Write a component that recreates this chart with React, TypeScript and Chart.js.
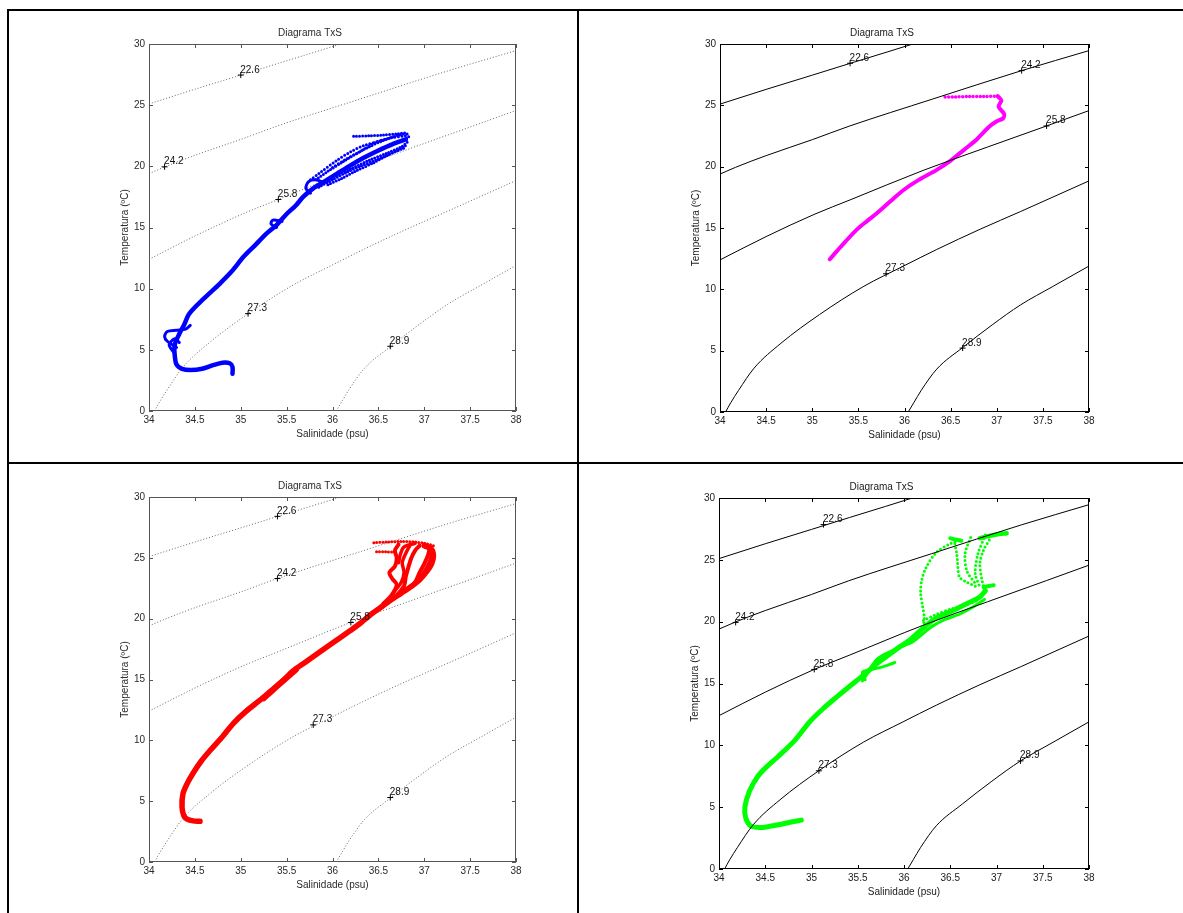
import React, { useEffect, useRef } from "react";
import { Chart, registerables } from "chart.js";

Chart.register(...registerables);

type Pt = [number, number];

const FONT = 'Arial, "Liberation Sans", Helvetica, sans-serif';

const SAL_TICKS = [34, 34.5, 35, 35.5, 36, 36.5, 37, 37.5, 38];
const TEMP_TICKS = [0, 5, 10, 15, 20, 25, 30];

const TITLE = "Diagrama TxS";
const X_LABEL = "Salinidade (psu)";
const Y_LABEL = "Temperatura (ºC)";

// isopycnal (sigma-t) curves: [salinity, temperature]
const ISO_LABELS = ["22.6", "24.2", "25.8", "27.3", "28.9"];
const ISO_22_6: Pt[] = [[34, 25.1], [34.5, 26.3], [35, 27.46], [35.41, 28.42], [35.8, 29.32], [36.09, 30.0], [36.3, 30.5]];
const ISO_24_2: Pt[] = [[34, 19.4], [34.17, 19.95], [34.5, 20.9], [35, 22.2], [35.4, 23.3], [36.3, 25.5], [37.27, 27.83], [38, 29.46]];
const ISO_25_8: Pt[] = [[34, 12.4], [34.5, 14.3], [35.03, 16.14], [35.41, 17.29], [36.2, 19.69], [36.9, 21.6], [37.54, 23.32], [38, 24.57]];
const ISO_27_3: Pt[] = [[34.06, 0], [34.116, 0.75], [34.2, 1.75], [34.37, 3.58], [34.66, 5.6], [35.08, 7.95], [35.56, 10.25], [35.99, 11.9], [36.35, 13.25], [36.82, 14.9], [37.26, 16.35], [38, 18.84]];
const ISO_28_9: Pt[] = [[36.04, 0], [36.1, 0.75], [36.18, 1.75], [36.35, 3.5], [36.63, 5.25], [36.95, 7.1], [37.26, 8.74], [37.6, 10.2], [38, 11.9]];
const ISO_LINES = [ISO_22_6, ISO_24_2, ISO_25_8, ISO_27_3, ISO_28_9];

// label anchor positions ("+") per panel
const P1_LABEL_S = [35.0, 34.17, 35.41, 35.08, 36.63];
const P1_LABEL_T = [27.46, 19.96, 17.29, 7.96, 5.29];
const P2_LABEL_S = [35.41, 37.27, 37.54, 35.8, 36.63];
const P2_LABEL_T = [28.43, 27.83, 23.32, 11.27, 5.21];
const P3_LABEL_S = [35.4, 35.4, 36.2, 35.79, 36.63];
const P3_LABEL_T = [28.41, 23.3, 19.69, 11.27, 5.3];
const P4_LABEL_S = [35.13, 34.18, 35.03, 35.08, 37.26];
const P4_LABEL_T = [27.85, 19.94, 16.14, 7.94, 8.74];

// Panel 1 (blue) profile
const BLUE_MAIN: Pt[] = [[34.91, 3.05], [34.91, 3.6], [34.88, 3.9], [34.8, 3.95], [34.7, 3.75], [34.58, 3.45], [34.45, 3.35], [34.36, 3.45], [34.3, 3.8], [34.28, 4.6], [34.28, 5.4], [34.33, 6.3], [34.38, 7.0], [34.44, 7.96], [34.6, 9.2], [34.77, 10.4], [34.9, 11.4], [35.03, 12.6], [35.15, 13.5], [35.28, 14.5], [35.39, 15.2], [35.5, 16.1], [35.6, 16.8], [35.68, 17.5], [35.79, 18.2], [35.9, 18.7], [36.05, 19.4], [36.2, 20.1], [36.34, 20.7], [36.5, 21.3], [36.65, 21.8], [36.8, 22.2]];
const BLUE_LOOP_DEEP: Pt[] = [[34.3, 5.2], [34.2, 5.7], [34.17, 6.1], [34.2, 6.5], [34.3, 6.6], [34.4, 6.7], [34.45, 7.0]];
const BLUE_LOOP_DEEP2: Pt[] = [[34.27, 4.8], [34.22, 5.4], [34.28, 5.9], [34.33, 5.6]];
const BLUE_LOOP_MID: Pt[] = [[35.39, 15.0], [35.33, 15.3], [35.35, 15.6], [35.45, 15.5]];
const BLUE_LOOP_UP: Pt[] = [[35.76, 17.8], [35.71, 18.2], [35.74, 18.75], [35.82, 18.9], [35.9, 18.7]];
const BLUE_FAN_1: Pt[] = [[35.9, 18.7], [36.05, 19.3], [36.2, 19.8], [36.4, 20.5], [36.6, 21.1], [36.75, 21.6], [36.82, 22.0]];
const BLUE_FAN_2: Pt[] = [[35.85, 18.3], [36.0, 18.9], [36.15, 19.5], [36.3, 20.0], [36.5, 20.6], [36.7, 21.3], [36.82, 21.8]];
const BLUE_FAN_3: Pt[] = [[35.82, 18.9], [35.95, 19.6], [36.1, 20.3], [36.25, 21.0], [36.4, 21.6], [36.55, 22.1], [36.7, 22.5], [36.8, 22.7]];
const BLUE_FAN_4: Pt[] = [[36.23, 22.45], [36.4, 22.5], [36.55, 22.55], [36.7, 22.65], [36.8, 22.7], [36.83, 22.4], [36.75, 22.1]];
const BLUE_FAN_5: Pt[] = [[35.76, 18.9], [35.85, 19.4], [36.05, 20.5], [36.2, 21.2], [36.34, 21.7], [36.55, 22.15], [36.7, 22.5]];
const BLUE_FAN_6: Pt[] = [[35.95, 18.5], [36.1, 19.0], [36.25, 19.6], [36.45, 20.3], [36.6, 20.9], [36.78, 21.5]];
const BLUE_FAN_7: Pt[] = [[36.0, 19.9], [36.15, 20.6], [36.3, 21.2], [36.45, 21.9], [36.62, 22.3], [36.8, 22.5]];

// Panel 2 (magenta) profile
const MAG_MAIN: Pt[] = [[35.19, 12.45], [35.3, 13.4], [35.48, 14.85], [35.6, 15.6], [35.7, 16.2], [35.85, 17.2], [35.99, 18.1], [36.15, 18.9], [36.35, 19.74], [36.5, 20.5], [36.6, 21.1], [36.7, 21.7], [36.78, 22.2], [36.92, 23.27], [37.0, 23.7], [37.07, 23.95], [37.08, 24.3], [37.02, 24.9], [37.05, 25.4], [37.01, 25.75]];
const MAG_TOP: Pt[] = [[37.01, 25.75], [36.85, 25.72], [36.7, 25.72], [36.55, 25.68], [36.42, 25.67]];

// Panel 3 (red) profile
const RED_MAIN: Pt[] = [[34.556, 3.35], [34.48, 3.38], [34.42, 3.5], [34.38, 3.8], [34.36, 4.5], [34.37, 5.6], [34.42, 6.5], [34.48, 7.3], [34.57, 8.3], [34.67, 9.2], [34.8, 10.3], [34.92, 11.4], [35.06, 12.4], [35.21, 13.3], [35.35, 14.2], [35.47, 14.95], [35.57, 15.7], [35.7, 16.4], [35.83, 17.1], [36.0, 18.0], [36.19, 19.0], [36.3, 19.6], [36.41, 20.3], [36.52, 20.9], [36.63, 21.5], [36.75, 22.1], [36.85, 22.6], [36.95, 23.2], [37.03, 23.9], [37.08, 24.5], [37.1, 25.1], [37.08, 25.7], [37.0, 26.0]];
const RED_THICK: Pt[] = [[35.25, 13.45], [35.38, 14.35], [35.5, 15.15], [35.6, 15.8]];
const RED_FAN_1: Pt[] = [[36.55, 21.2], [36.65, 22.0], [36.7, 22.8], [36.65, 23.3], [36.62, 23.8], [36.68, 24.3], [36.7, 25.0], [36.68, 25.6], [36.72, 26.1]];
const RED_FAN_2: Pt[] = [[36.7, 21.9], [36.78, 22.7], [36.8, 23.5], [36.83, 24.3], [36.86, 25.0], [36.9, 25.6], [36.95, 26.0]];
const RED_FAN_3: Pt[] = [[36.8, 22.3], [36.9, 23.0], [36.95, 23.8], [37.0, 24.5], [37.04, 25.2], [37.06, 25.8]];
const RED_FAN_4: Pt[] = [[36.6, 21.4], [36.68, 22.3], [36.75, 23.0], [36.78, 23.8], [36.76, 24.6], [36.8, 25.4], [36.85, 26.1]];
const RED_FAN_5: Pt[] = [[36.88, 22.8], [36.97, 23.5], [37.03, 24.2], [37.07, 24.9], [37.08, 25.5], [37.03, 26.0]];
const RED_FAN_6: Pt[] = [[36.72, 24.6], [36.74, 25.3], [36.78, 25.9], [36.9, 26.2]];
const RED_TOP: Pt[] = [[36.45, 26.25], [36.6, 26.3], [36.75, 26.35], [36.9, 26.3], [37.0, 26.2], [37.1, 26.0]];
const RED_ROW2: Pt[] = [[36.48, 25.5], [36.58, 25.5], [36.68, 25.45]];

// Panel 4 (green) profile
const GREEN_MAIN: Pt[] = [[34.89, 3.95], [34.78, 3.8], [34.66, 3.6], [34.55, 3.45], [34.44, 3.35], [34.34, 3.5], [34.29, 4.1], [34.28, 5.0], [34.33, 6.3], [34.42, 7.5], [34.52, 8.3], [34.64, 9.1], [34.82, 10.4], [34.98, 11.9], [35.13, 13.0], [35.27, 13.9], [35.4, 14.7], [35.5, 15.3], [35.6, 15.9], [35.67, 16.4], [35.76, 16.9], [35.85, 17.4], [35.96, 18.0], [36.06, 18.5], [36.21, 19.5], [36.35, 20.3], [36.5, 20.8], [36.61, 21.2], [36.72, 21.6], [36.82, 22.0], [36.88, 22.5]];
const GREEN_SECOND: Pt[] = [[35.55, 15.2], [35.62, 16.0], [35.7, 16.9], [35.8, 17.4], [35.95, 17.9], [36.1, 18.4], [36.2, 19.0], [36.3, 19.6], [36.45, 20.2], [36.6, 20.6], [36.75, 21.2], [36.87, 21.8]];
const GREEN_LOOP: Pt[] = [[35.58, 15.3], [35.55, 15.9], [35.62, 16.1], [35.75, 16.3], [35.9, 16.7]];
const GREEN_ARM: Pt[] = [[36.86, 22.8], [36.93, 22.9], [36.97, 22.95]];
const GREEN_TOP: Pt[] = [[36.82, 26.75], [36.9, 26.9], [37.0, 27.05], [37.11, 27.15]];
const GREEN_HOOK: Pt[] = [[36.5, 26.75], [36.55, 26.65], [36.62, 26.55]];
const GREEN_DOT_1: Pt[] = [[36.21, 19.6], [36.22, 20.3], [36.2, 21.3], [36.18, 22.3], [36.19, 23.3], [36.24, 24.4], [36.35, 25.6], [36.5, 26.3], [36.62, 26.6]];
const GREEN_DOT_2: Pt[] = [[36.21, 20.1], [36.35, 20.6], [36.5, 21.0], [36.64, 21.3], [36.79, 21.7]];
const GREEN_DOT_3: Pt[] = [[36.55, 26.3], [36.57, 25.5], [36.58, 24.7], [36.6, 23.6], [36.68, 23.2], [36.79, 22.8]];
const GREEN_DOT_4: Pt[] = [[36.72, 26.8], [36.66, 25.5], [36.68, 24.1], [36.77, 23.1]];
const GREEN_DOT_5: Pt[] = [[36.88, 27.0], [36.8, 25.5], [36.77, 23.9], [36.82, 22.8]];
const GREEN_DOT_6: Pt[] = [[36.87, 22.6], [36.84, 23.5], [36.82, 24.7], [36.86, 25.8], [36.93, 26.7]];

type Trace = { pts: Pt[]; width: number; dot?: number };
type PanelCfg = {
  L: number; T: number; W: number; H: number;
  color: string; solidIso: boolean; frame: string; text: string;
  labelS: number[]; labelT: number[]; traces: Trace[];
};

const PANELS: PanelCfg[] = [
  {
    L: 149, T: 44, W: 367, H: 367, color: "#0000ff", solidIso: false, frame: "#555", text: "#2a2a2a",
    labelS: P1_LABEL_S, labelT: P1_LABEL_T,
    traces: [
      { pts: BLUE_MAIN, width: 4.5 },
      { pts: BLUE_LOOP_DEEP, width: 3 },
      { pts: BLUE_LOOP_DEEP2, width: 3 },
      { pts: BLUE_LOOP_MID, width: 3 },
      { pts: BLUE_LOOP_UP, width: 3 },
      { pts: BLUE_FAN_1, width: 3, dot: 3 },
      { pts: BLUE_FAN_2, width: 3, dot: 3 },
      { pts: BLUE_FAN_3, width: 3, dot: 3 },
      { pts: BLUE_FAN_4, width: 3, dot: 3 },
      { pts: BLUE_FAN_5, width: 3, dot: 3.5 },
      { pts: BLUE_FAN_6, width: 3, dot: 3 },
      { pts: BLUE_FAN_7, width: 3, dot: 3.5 },
    ],
  },
  {
    L: 720, T: 44, W: 369, H: 368, color: "#ff00ff", solidIso: true, frame: "#000", text: "#1a1a1a",
    labelS: P2_LABEL_S, labelT: P2_LABEL_T,
    traces: [
      { pts: MAG_MAIN, width: 4 },
      { pts: MAG_TOP, width: 3.5, dot: 3.5 },
    ],
  },
  {
    L: 149, T: 497, W: 367, H: 365, color: "#ff0000", solidIso: false, frame: "#555", text: "#2a2a2a",
    labelS: P3_LABEL_S, labelT: P3_LABEL_T,
    traces: [
      { pts: RED_MAIN, width: 5.5 },
      { pts: RED_THICK, width: 6 },
      { pts: RED_FAN_1, width: 4 },
      { pts: RED_FAN_2, width: 4 },
      { pts: RED_FAN_3, width: 4 },
      { pts: RED_FAN_4, width: 3.5 },
      { pts: RED_FAN_5, width: 4 },
      { pts: RED_FAN_6, width: 3.5 },
      { pts: RED_TOP, width: 3, dot: 3 },
      { pts: RED_ROW2, width: 3, dot: 3 },
    ],
  },
  {
    L: 719, T: 498, W: 370, H: 371, color: "#00ff00", solidIso: true, frame: "#000", text: "#1a1a1a",
    labelS: P4_LABEL_S, labelT: P4_LABEL_T,
    traces: [
      { pts: GREEN_MAIN, width: 5 },
      { pts: GREEN_SECOND, width: 3 },
      { pts: GREEN_LOOP, width: 3 },
      { pts: GREEN_ARM, width: 4 },
      { pts: GREEN_TOP, width: 4.5 },
      { pts: GREEN_HOOK, width: 4 },
      { pts: GREEN_DOT_1, width: 3, dot: 4 },
      { pts: GREEN_DOT_2, width: 3, dot: 4 },
      { pts: GREEN_DOT_3, width: 3, dot: 4 },
      { pts: GREEN_DOT_4, width: 3, dot: 4 },
      { pts: GREEN_DOT_5, width: 3, dot: 4 },
      { pts: GREEN_DOT_6, width: 3, dot: 4 },
    ],
  },
];

const toXY = (a: Pt[]) => a.map(([x, y]) => ({ x, y }));

const framePlugin = {
  id: "matlabFrame",
  afterDraw(chart: any, _args: any, opts: any) {
    const { ctx, chartArea, scales } = chart;
    const { left, right, top, bottom } = chartArea;
    ctx.save();
    ctx.strokeStyle = opts.color || "#000";
    ctx.lineWidth = 1;
    ctx.strokeRect(left + 0.5, top + 0.5, right - left - 1, bottom - top - 1);
    const tl = 4;
    ctx.beginPath();
    SAL_TICKS.forEach((v) => {
      const x = Math.round(scales.x.getPixelForValue(v)) + 0.5;
      ctx.moveTo(x, bottom);
      ctx.lineTo(x, bottom - tl);
      ctx.moveTo(x, top);
      ctx.lineTo(x, top + tl);
    });
    TEMP_TICKS.forEach((v) => {
      const y = Math.round(scales.y.getPixelForValue(v)) + 0.5;
      ctx.moveTo(left, y);
      ctx.lineTo(left + tl, y);
      ctx.moveTo(right, y);
      ctx.lineTo(right - tl, y);
    });
    ctx.stroke();
    ctx.restore();
  },
};

const labelPlugin = {
  id: "isoLabels",
  afterDatasetsDraw(chart: any) {
    const { ctx } = chart;
    chart.data.datasets.forEach((ds: any, i: number) => {
      if (!ds.isoText) return;
      const meta = chart.getDatasetMeta(i);
      ctx.save();
      ctx.font = `10px ${FONT}`;
      ctx.fillStyle = "#111";
      ctx.textAlign = "left";
      ctx.textBaseline = "alphabetic";
      meta.data.forEach((el: any, j: number) => {
        ctx.fillText(ds.isoText[j], el.x - 0.5, el.y - 2.5);
      });
      ctx.restore();
    });
  },
};

function Panel({ cfg }: { cfg: PanelCfg }) {
  const ref = useRef<HTMLCanvasElement>(null);
  useEffect(() => {
    const canvas = ref.current!;
    const datasets: any[] = [];
    datasets.push({
      data: cfg.labelS.map((s, i) => ({ x: s, y: cfg.labelT[i] })),
      showLine: false,
      pointStyle: "cross",
      pointRadius: 3,
      pointBorderColor: "#000",
      pointBackgroundColor: "#000",
      pointBorderWidth: 1,
      isoText: ISO_LABELS,
      order: 0,
    });
    ISO_LINES.forEach((line) => {
      datasets.push({
        data: toXY(line),
        showLine: true,
        borderColor: cfg.solidIso ? "#000" : "#666",
        borderWidth: 1,
        borderDash: cfg.solidIso ? [] : [1, 2],
        pointRadius: 0,
        cubicInterpolationMode: "monotone",
        order: cfg.solidIso ? 1 : 3,
      });
    });
    cfg.traces.forEach((tr) => {
      datasets.push({
        data: toXY(tr.pts),
        showLine: true,
        borderColor: cfg.color,
        borderWidth: tr.width,
        borderDash: tr.dot ? [0, tr.dot] : [],
        borderCapStyle: "round",
        borderJoinStyle: "round",
        pointRadius: 0,
        tension: 0.3,
        order: 2,
      });
    });
    const font = { family: FONT, size: 10, weight: "normal" as const };
    const fmt = (v: any) => String(Math.round(Number(v) * 10) / 10);
    const chart = new Chart(canvas, {
      type: "scatter",
      data: { datasets },
      options: {
        responsive: false,
        animation: false,
        events: [],
        layout: { padding: { left: 0, right: 45, top: 0, bottom: 0 } },
        plugins: {
          legend: { display: false },
          tooltip: { enabled: false },
          title: {
            display: true,
            text: TITLE,
            color: cfg.text,
            font,
            padding: { top: 13, bottom: 5 },
          },
          matlabFrame: { color: cfg.frame },
        } as any,
        scales: {
          x: {
            type: "linear",
            min: 34,
            max: 38,
            afterBuildTicks: (s: any) => {
              s.ticks = SAL_TICKS.map((v) => ({ value: v }));
            },
            afterFit: (s: any) => {
              s.height = 40;
            },
            grid: { display: false, drawTicks: false },
            border: { display: false },
            ticks: { color: cfg.text, font, padding: 3, maxRotation: 0, autoSkip: false, callback: fmt },
            title: { display: true, text: X_LABEL, color: cfg.text, font, padding: { top: 0, bottom: 11 } },
          },
          y: {
            type: "linear",
            min: 0,
            max: 30,
            afterBuildTicks: (s: any) => {
              s.ticks = TEMP_TICKS.map((v) => ({ value: v }));
            },
            afterFit: (s: any) => {
              s.width = 45;
            },
            grid: { display: false, drawTicks: false },
            border: { display: false },
            ticks: { color: cfg.text, font, padding: 4, autoSkip: false, callback: fmt },
            title: { display: true, text: Y_LABEL, color: cfg.text, font, padding: { top: 15, bottom: 0 } },
          },
        } as any,
      },
      plugins: [framePlugin, labelPlugin],
    });
    return () => chart.destroy();
  }, [cfg]);
  const w = cfg.W + 90;
  const h = cfg.H + 70;
  return (
    <canvas
      ref={ref}
      width={w}
      height={h}
      style={{ position: "absolute", left: cfg.L - 45, top: cfg.T - 30, width: w, height: h }}
    />
  );
}

export default function App() {
  const line = (l: number, t: number, w: number, h: number) => (
    <div style={{ position: "absolute", left: l, top: t, width: w, height: h, background: "#000" }} />
  );
  return (
    <div
      style={{
        position: "fixed",
        left: 0,
        top: 0,
        width: 1183,
        height: 913,
        overflow: "hidden",
        background: "#fff",
      }}
    >
      {line(7, 9, 1176, 2)}
      {line(7, 9, 2, 904)}
      {line(577, 9, 2, 904)}
      {line(7, 462, 1176, 2)}
      {PANELS.map((p, i) => (
        <Panel key={i} cfg={p} />
      ))}
    </div>
  );
}
